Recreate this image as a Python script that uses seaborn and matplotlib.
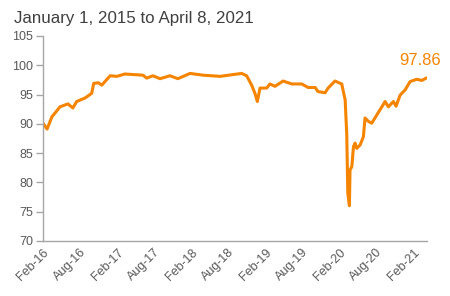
import matplotlib
matplotlib.use("Agg")
import matplotlib.pyplot as plt
import seaborn as sns
import pandas as pd

dates = ["2016-02-01", "2016-02-21", "2016-03-16", "2016-04-25", "2016-06-03", "2016-06-27",
         "2016-07-16", "2016-08-26", "2016-09-28", "2016-10-08", "2016-10-31", "2016-11-17",
         "2016-12-28", "2017-01-30", "2017-03-11", "2017-06-08", "2017-06-26", "2017-07-27",
         "2017-08-31", "2017-10-19", "2017-11-27", "2018-01-26", "2018-03-31", "2018-06-23",
         "2018-10-08", "2018-11-01", "2018-11-26", "2018-12-12", "2018-12-24", "2019-01-06",
         "2019-02-08", "2019-02-24", "2019-03-21", "2019-04-30", "2019-06-12", "2019-07-31",
         "2019-08-31", "2019-10-05", "2019-10-19", "2019-11-23", "2019-12-08", "2020-01-11",
         "2020-02-13", "2020-03-01", "2020-03-09", "2020-03-14", "2020-03-22", "2020-03-25",
         "2020-04-03", "2020-04-11", "2020-04-19", "2020-04-27", "2020-05-14", "2020-05-30",
         "2020-06-07", "2020-06-24", "2020-07-10", "2020-08-04", "2020-09-14", "2020-09-30",
         "2020-10-25", "2020-11-07", "2020-11-27", "2020-12-22", "2021-01-15", "2021-02-17",
         "2021-03-14", "2021-04-08"]
values = [90.1, 89.1, 91.2, 92.9, 93.4, 92.7,
          93.8, 94.4, 95.2, 96.9, 97.0, 96.6,
          98.2, 98.1, 98.5, 98.3, 97.8, 98.2,
          97.7, 98.2, 97.7, 98.6, 98.3, 98.1,
          98.6, 98.2, 96.6, 95.2, 93.8, 96.1,
          96.1, 96.8, 96.4, 97.3, 96.8, 96.8,
          96.2, 96.2, 95.5, 95.3, 96.1, 97.3,
          96.8, 94.1, 88.1, 78.2, 76.0, 82.1,
          82.7, 86.1, 86.7, 85.8, 86.4, 87.8,
          91.0, 90.4, 90.1, 91.5, 93.8, 92.9,
          93.8, 93.0, 94.9, 95.8, 97.2, 97.6,
          97.4, 97.86]
tick_dates = ["2016-02-01", "2016-08-01", "2017-02-01", "2017-08-01", "2018-02-01", "2018-08-01",
              "2019-02-01", "2019-08-01", "2020-02-01", "2020-08-01", "2021-02-01"]
tick_labels = ["Feb-16", "Aug-16", "Feb-17", "Aug-17", "Feb-18", "Aug-18",
               "Feb-19", "Aug-19", "Feb-20", "Aug-20", "Feb-21"]
y_ticks = [70, 75, 80, 85, 90, 95, 100, 105]
title = "January 1, 2015 to April 8, 2021"
last_label = "97.86"

sns.set_style("white")
plt.rcParams['font.family'] = ['Liberation Sans', 'DejaVu Sans']

df = pd.DataFrame({"date": pd.to_datetime(dates), "value": values})

fig = plt.figure(figsize=(4.5, 2.96), dpi=100)
ax = fig.add_axes([0.0956, 0.186, 0.853, 0.6926])
line_color = "#F58400"
sns.lineplot(data=df, x="date", y="value", ax=ax, color=line_color, linewidth=2.2)

ax.set_xlim(pd.Timestamp("2016-02-01"), pd.Timestamp("2021-04-08"))
ax.set_ylim(70, 105)
ax.set_yticks(y_ticks)
ax.set_yticklabels([str(v) for v in y_ticks])
ax.set_xticks(pd.to_datetime(tick_dates))
ax.set_xticklabels(tick_labels, rotation=45, ha="right", rotation_mode="anchor")
ax.set_xlabel("")
ax.set_ylabel("")

for s in ["top", "right"]:
    ax.spines[s].set_visible(False)
for s in ["left", "bottom"]:
    ax.spines[s].set_color("#A6A6A6")
    ax.spines[s].set_linewidth(1.0)

ax.tick_params(axis="y", which="both", left=True, length=5, width=1, color="#A6A6A6",
               labelsize=9, labelcolor="#595959", pad=2)
ax.tick_params(axis="x", which="both", bottom=False, length=0,
               labelsize=9, labelcolor="#595959", pad=4)

ax.annotate(last_label, xy=(df["date"].iloc[-1], df["value"].iloc[-1]),
            xytext=(-5, 7), textcoords="offset points", ha="center", va="bottom",
            color=line_color, fontsize=12)

fig.text(0.031, 0.962, title, ha="left", va="top", fontsize=12.2, color="#404040")

fig.savefig("out.png", dpi=100)
